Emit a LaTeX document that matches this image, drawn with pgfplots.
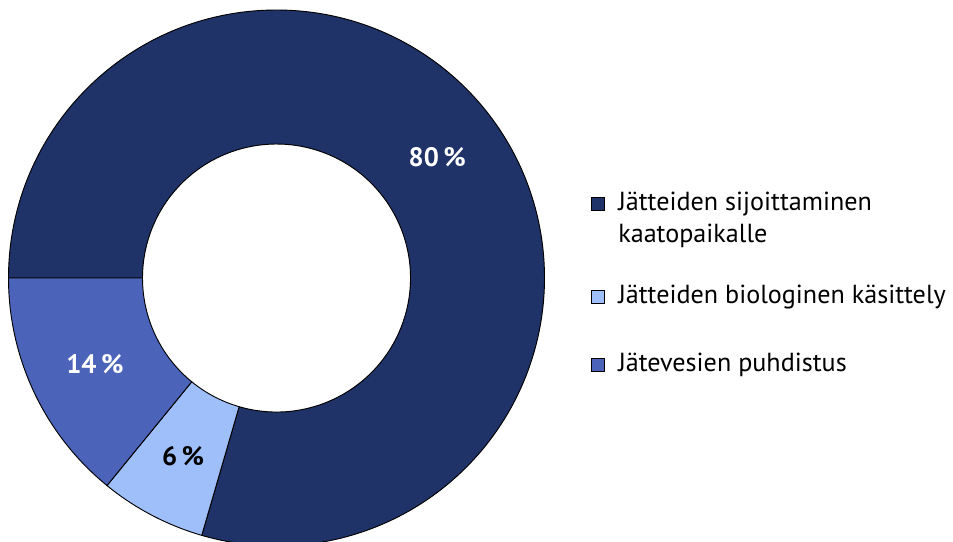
\documentclass[border=0pt]{standalone}
\usepackage{pgfplots}
\usepackage{pgfplotstable}
\pgfplotsset{compat=1.18}
\usepackage{fontspec}
\setmainfont{PT Sans}
\definecolor{cA}{HTML}{1F3368}
\definecolor{cB}{HTML}{9FBFFA}
\definecolor{cC}{HTML}{4C63BA}
\pgfplotstableread{
label value pct
A 79.5 80
B 6.4 6
C 14.1 14
}\shares
\pgfplotstablegetelem{0}{value}\of\shares \let\vA\pgfplotsretval
\pgfplotstablegetelem{1}{value}\of\shares \let\vB\pgfplotsretval
\pgfplotstablegetelem{2}{value}\of\shares \let\vC\pgfplotsretval
\pgfplotstablegetelem{0}{pct}\of\shares \let\pA\pgfplotsretval
\pgfplotstablegetelem{1}{pct}\of\shares \let\pB\pgfplotsretval
\pgfplotstablegetelem{2}{pct}\of\shares \let\pC\pgfplotsretval
\pgfmathsetmacro{\aS}{180}
\pgfmathsetmacro{\aA}{\aS-3.6*\vA}
\pgfmathsetmacro{\aB}{\aA-3.6*\vB}
\pgfmathsetmacro{\aC}{\aB-3.6*\vC}
\pgfmathsetmacro{\mA}{(\aS+\aA)/2}
\pgfmathsetmacro{\mB}{(\aA+\aB)/2}
\pgfmathsetmacro{\mC}{(\aB+\aC)/2}
\newcommand{\slice}[3]{%
  \fill[#3, draw=black, line width=0.7pt] ([shift={(#1:201pt)}]axis cs:276.5,278) arc[start angle=#1, end angle=#2, radius=201pt]
    -- ([shift={(#2:100.5pt)}]axis cs:276.5,278) arc[start angle=#2, end angle=#1, radius=100.5pt] -- cycle;}
\newcommand{\legsq}[2]{%
  \draw[fill=#2, draw=black, line width=0.6pt] ([shift={(-4.875pt,-4.875pt)}]axis cs:597.5,#1) rectangle ([shift={(4.875pt,4.875pt)}]axis cs:597.5,#1);}
\begin{document}
\begin{tikzpicture}
\clip (0,0) rectangle (714.75pt,-406.5pt);
\begin{axis}[
  at={(0,0)}, anchor=north west,
  scale only axis, width=714.75pt, height=406.5pt,
  xmin=0, xmax=953, ymin=0, ymax=542, y dir=reverse,
  hide axis, clip=false]
\slice{\aS}{\aA}{cA}
\slice{\aA}{\aB}{cB}
\slice{\aB}{\aC}{cC}
\node[font=\bfseries\fontsize{20}{24}\selectfont, text=white] at ([shift={(\mA:150.75pt)}]axis cs:276.5,278) {\pA\,\%};
\node[font=\bfseries\fontsize{20}{24}\selectfont, text=black] at ([shift={(\mB:150.75pt)}]axis cs:276.5,278) {\pB\,\%};
\node[font=\bfseries\fontsize{20}{24}\selectfont, text=white] at ([shift={(\mC:150.75pt)}]axis cs:276.5,278) {\pC\,\%};
\legsq{204}{cA}
\legsq{297}{cB}
\legsq{365}{cC}
\node[anchor=west, font=\fontsize{19.6}{22}\selectfont, inner sep=0pt] at (axis cs:618,204) {Jätteiden sijoittaminen};
\node[anchor=west, font=\fontsize{19.6}{22}\selectfont, inner sep=0pt] at (axis cs:618,236) {kaatopaikalle};
\node[anchor=west, font=\fontsize{19.6}{22}\selectfont, inner sep=0pt] at (axis cs:618,297) {Jätteiden biologinen käsittely};
\node[anchor=west, font=\fontsize{19.6}{22}\selectfont, inner sep=0pt] at (axis cs:618,365) {Jätevesien puhdistus};
\end{axis}
\end{tikzpicture}
\end{document}
